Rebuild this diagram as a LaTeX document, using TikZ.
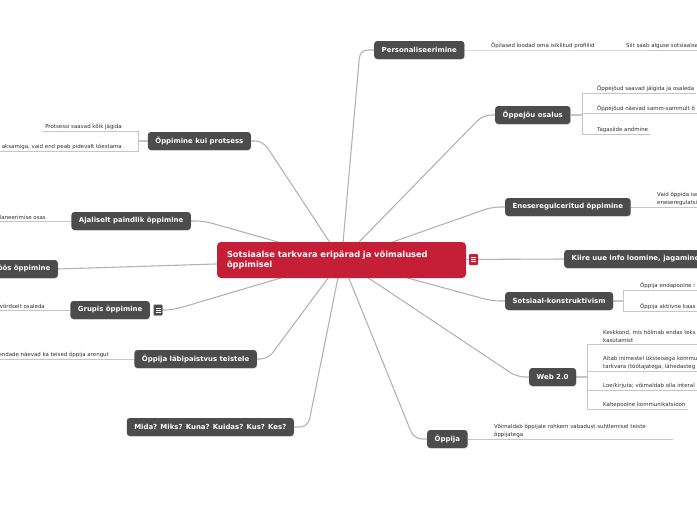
\documentclass[tikz,border=0pt]{standalone}
\usepackage{fontspec}
\setmainfont{DejaVu Sans}
\usetikzlibrary{shadows}
\pgfdeclarelayer{background}
\pgfsetlayers{background,main}
\definecolor{rootred}{HTML}{C51F37}
\definecolor{topicgrey}{HTML}{4C4C4C}
\definecolor{linegrey}{HTML}{B2B2B2}
\definecolor{leafline}{HTML}{C6C6C6}
\definecolor{leaftext}{HTML}{2E2E2E}

\begin{document}
\begin{tikzpicture}[
        x=1pt, y=-1pt,
        root/.style={fill=rootred, rounded corners=4pt, text=white, align=left,
            font=\bfseries\fontsize{8.3}{10.5}\selectfont, text width=229pt,
            inner xsep=10pt, minimum height=36pt},
        topic/.style={fill=topicgrey, rounded corners=3pt, text=white,
            font=\bfseries\fontsize{6.95}{8}\selectfont, inner xsep=7.5pt, inner ysep=0pt,
            minimum height=18pt, drop shadow={opacity=0.2, shadow xshift=0.6pt, shadow yshift=-0.8pt}},
        leaf/.style={font=\fontsize{5.45}{7.2}\selectfont, text=leaftext, align=left,
            inner xsep=2pt, inner ysep=1.6pt},
        branch/.style={draw=linegrey, line width=1.1pt, rounded corners=8pt},
        twig/.style={draw=leafline, line width=0.7pt},
        fold/.style={rounded corners=1pt, minimum width=9pt, minimum height=11pt, inner sep=0pt,
            path picture={\foreach \k in {-2.2,0,2.2}
                \draw[white, line width=0.5pt] ([xshift=-2.5pt, yshift=\k pt]path picture bounding box.center) -- ++(5pt,0);}}
    ]
    \useasboundingbox (0,0) rectangle (697,520);
    \clip (0,0) rectangle (697,520);

    % --- Root ---
    \node[root] (root) at (341.5,260) {Sotsiaalse tarkvara eripärad ja võimalused\\õppimisel};
    \node[fold, fill=rootred] (rootfold) at (473.5,259.5) {};

    % --- Right topics ---
    \node[topic, anchor=west] (pers) at (374,50) {Personaliseerimine};
    \node[topic, anchor=west] (opj) at (495,115) {Õppejõu osalus};
    \node[topic, anchor=west] (enes) at (505,207) {Eneseregulceritud õppimine};
    \node[topic, anchor=west] (kiire) at (564,259) {Kiire uue info loomine, jagamine};
    \node[topic, anchor=west] (sots) at (505,301) {Sotsiaal-konstruktivism};
    \node[topic, anchor=west] (web) at (529,377) {Web 2.0};
    \node[topic, anchor=west] (oppija) at (427,439) {Õppija};

    % --- Left topics ---
    \node[topic, anchor=east] (prot) at (251,141) {Õppimine kui protsess};
    \node[topic, anchor=east] (ajal) at (191,221) {Ajaliselt paindlik õppimine};
    \node[topic, anchor=east] (koos) at (58,269) {öös õppimine};
    \node[fold, fill=topicgrey, draw=white!60!topicgrey, line width=0.4pt] (grupfold) at (158,310) {};
    \node[topic, anchor=east] (grupis) at (150,310) {Grupis õppimine};
    \node[topic, anchor=east] (labi) at (257,359) {Õppija läbipaistvus teistele};
    \node[topic, anchor=east] (mida) at (294,427) {Mida? Miks? Kuna? Kuidas? Kus? Kes?};

    % --- Leaves, right ---
    \node[leaf, anchor=south west] (pers1) at (489,50) {Õpilased loodad oma isiklikud profiilid};
    \node[leaf, anchor=south west] (pers2) at (624,50) {Siit saab alguse sotsiaalse};
    \node[leaf, anchor=south west] (opj1) at (595,93) {Õppejõud saavad jälgida ja osaleda};
    \node[leaf, anchor=south west] (opj2) at (595,113) {Õppejõud näevad samm-sammult õ};
    \node[leaf, anchor=south west] (opj3) at (595,134) {Tagasiide andmine};
    \node[leaf, anchor=south west] (enes1) at (655,207) {Vaid õppida ise\\eneseregulatsi};
    \node[leaf, anchor=south west] (sots1) at (638,290) {Õppija endapoolne i};
    \node[leaf, anchor=south west] (sots2) at (638,311) {Õppija aktiivne kaas};
    \node[leaf, anchor=south west] (web1) at (601,344) {Keskkond, mis hõlmab endas teks\\kasutamist};
    \node[leaf, anchor=south west] (web2) at (601,371) {Aitab inimestel üksteisega kommu\\tarkvara (töötajatega, lähedasteg};
    \node[leaf, anchor=south west] (web3) at (601,390) {Loe/kirjuta; võimaldab olla interal};
    \node[leaf, anchor=south west] (web4) at (601,409) {Kahepoolne kommunikatsioon};
    \node[leaf, anchor=south west, text width=177pt] (opp1) at (492,439) {Võimaldab õppijale rohkem vabadust suhtlemisel teiste\\õppijatega};

    % --- Leaves, left ---
    \node[leaf, anchor=south east] (prot1) at (124,131) {Protsessi saavad kõik jägida};
    \node[leaf, anchor=south east] (prot2) at (124,151) {aksamiga, vaid end peab pidevalt tõestama};
    \node[leaf, anchor=south east] (ajal1) at (48,221) {laneerimise osas};
    \node[leaf, anchor=south east] (grup1) at (47,310) {võrdselt osaleda};
    \node[leaf, anchor=south east] (labi1) at (111,359) {endade näevad ka teised õppija arengut};

    \coordinate (opjfork) at (582,115);
    \coordinate (sotsfork) at (623,301);
    \coordinate (webfork) at (587,377);
    \coordinate (protfork) at (138,141);

    \begin{pgfonlayer}{background}
    % --- Main branches ---
    \draw[branch] (root.center) -- ([xshift=-14pt]pers.west) -- (pers.west);
    \draw[branch] (root.center) -- ([xshift=-12pt]opj.west) -- (opj.west);
    \draw[branch] (root.center) -- ([xshift=-13pt]enes.west) -- (enes.west);
    \draw[branch] (root.center) -- (kiire.west);
    \draw[branch] (root.center) -- ([xshift=-13pt]sots.west) -- (sots.west);
    \draw[branch] (root.center) -- ([xshift=-12pt]web.west) -- (web.west);
    \draw[branch] (root.center) -- ([xshift=-13pt]oppija.west) -- (oppija.west);
    \draw[branch] (root.center) -- ([xshift=12pt]prot.east) -- (prot.east);
    \draw[branch] (root.center) -- ([xshift=13pt]ajal.east) -- (ajal.east);
    \draw[branch] (root.center) -- (koos.east);
    \draw[branch] (root.center) -- ([xshift=10pt]grupfold.east) -- (grupfold.east);
    \draw[branch] (root.center) -- ([xshift=11pt]labi.east) -- (labi.east);
    \draw[branch] (root.center) -- ([xshift=14pt]mida.east) -- (mida.east);

    % --- Leaf lines ---
    \draw[twig] (pers.east) -- (pers1.south east) -- (pers2.south east);
    \draw[twig, line width=1.1pt] (opj.east) -- (opjfork);
    \foreach \l in {opj1,opj2,opj3} \draw[twig] (opjfork) |- (\l.south east);
    \draw[twig] (enes.east) -- (enes1.south east);
    \draw[twig, line width=1.1pt] (sots.east) -- (sotsfork);
    \foreach \l in {sots1,sots2} \draw[twig] (sotsfork) |- (\l.south east);
    \draw[twig, line width=1.1pt] (web.east) -- (webfork);
    \foreach \l in {web1,web2,web3,web4} \draw[twig] (webfork) |- (\l.south east);
    \draw[twig] (oppija.east) -- (opp1.south east);
    \draw[twig, line width=1.1pt] (prot.west) -- (protfork);
    \foreach \l in {prot1,prot2} \draw[twig] (protfork) |- (\l.south west);
    \draw[twig] (ajal.west) -- (ajal1.south west);
    \draw[twig] (grupis.west) -- (grup1.south west);
    \draw[twig] (labi.west) -- (labi1.south west);
    \end{pgfonlayer}
\end{tikzpicture}
\end{document}
